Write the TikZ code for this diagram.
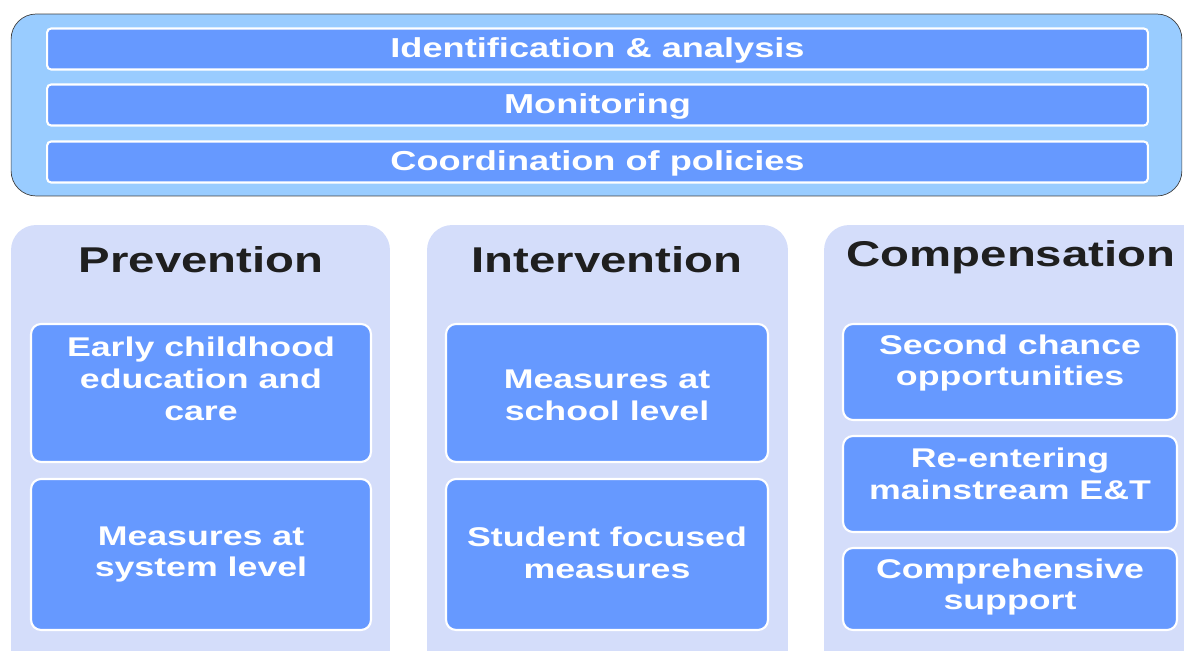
\documentclass[tikz,border=0pt]{standalone}
\usepackage{fontspec}
\newfontfamily\diagfont{Liberation Sans}[FakeStretch=1.32]

\definecolor{skyfill}{HTML}{99CCFF}
\definecolor{barfill}{HTML}{6699FF}
\definecolor{panelfill}{RGB}{212,221,250}
\definecolor{headtext}{HTML}{1F1F1F}

\begin{document}
\begin{tikzpicture}[x=0.02cm, y=-0.02cm]
    \tikzstyle{frame} = [draw=black!75, thin, fill=skyfill, rounded corners=0.5cm];
    \tikzstyle{bar} = [draw=white, line width=1.2pt, fill=barfill, rounded corners=0.08cm,
        minimum width=22.02cm, minimum height=0.82cm, text=white,
        text height=12.5pt, text depth=2.3pt,
        font=\diagfont\bfseries\fontsize{15.6}{18}\selectfont];
    \tikzstyle{panel} = [fill=panelfill, rounded corners=0.5cm, minimum height=9.5cm];
    \tikzstyle{heading} = [anchor=base, text=headtext,
        font=\diagfont\bfseries\fontsize{20.4}{24}\selectfont];
    \tikzstyle{card} = [draw=white, line width=1.2pt, fill=barfill, rounded corners=0.2cm];
    \tikzstyle{cardtext} = [align=center, text=white,
        font=\diagfont\bfseries\fontsize{15.4}{18.1}\selectfont];

    \clip (0,0) rectangle (1184,651);
    \useasboundingbox (0,0) rectangle (1184,651);

    % top frame with the three bars
    \node[frame, minimum width=23.42cm, minimum height=3.64cm] (frame) at (596.5,105) {};
    \node[bar] (ident) at (597.5,49) {Identification \& analysis};
    \node[bar] (monit) at (597.5,105) {Monitoring};
    \node[bar] (coord) at (597.5,162) {Coordination of policies};

    % the three columns
    \node[panel, minimum width=7.58cm] (prev) at (200.5,462.5) {};
    \node[panel, minimum width=7.22cm] (inter) at (607.5,462.5) {};
    \node[panel, minimum width=7.8cm] (comp) at (1019,462.5) {};

    \node[heading] (prevhead) at (201,273) {Prevention};
    \node[heading] (interhead) at (607,273) {Intervention};
    \node[heading] (comphead) at (1011,267) {Compensation};

    % prevention
    \node[card, minimum width=6.8cm, minimum height=2.76cm] (early) at (201,393) {};
    \node[cardtext] (earlytext) at ([yshift=0.28cm]early.center) {Early childhood\\education and\\care};
    \node[card, minimum width=6.8cm, minimum height=3.02cm] (system) at (201,554.5) {};
    \node[cardtext] (systemtext) at (system.center) {Measures at\\system level};

    % intervention
    \node[card, minimum width=6.44cm, minimum height=2.76cm] (school) at (607,393) {};
    \node[cardtext] (schooltext) at ([yshift=-0.04cm]school.center) {Measures at\\school level};
    \node[card, minimum width=6.44cm, minimum height=3.02cm] (student) at (607,554.5) {};
    \node[cardtext] (studenttext) at ([yshift=0.04cm]student.center) {Student focused\\measures};

    % compensation
    \node[card, minimum width=6.68cm, minimum height=1.92cm] (second) at (1010,372) {};
    \node[cardtext] (secondtext) at ([yshift=0.18cm]second.center) {Second chance\\opportunities};
    \node[card, minimum width=6.68cm, minimum height=1.92cm] (reenter) at (1010,484) {};
    \node[cardtext] (reentertext) at ([yshift=0.2cm]reenter.center) {Re-entering\\mainstream E\&T};
    \node[card, minimum width=6.68cm, minimum height=1.64cm] (support) at (1010,589) {};
    \node[cardtext] (supporttext) at ([yshift=0.04cm]support.center) {Comprehensive\\support};
\end{tikzpicture}
\end{document}
